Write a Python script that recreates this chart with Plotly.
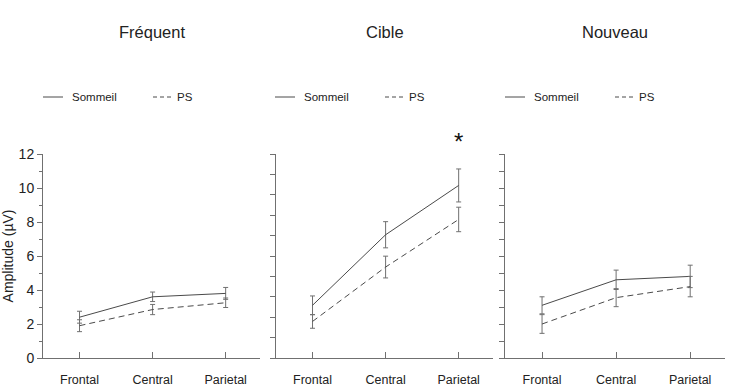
import plotly.graph_objects as go

categories = ["Frontal", "Central", "Parietal"]
panel_titles = ["Fréquent", "Cible", "Nouveau"]

frequent_sommeil = [2.4, 3.6, 3.8]
frequent_sommeil_err = [0.35, 0.28, 0.35]
frequent_ps = [1.9, 2.85, 3.25]
frequent_ps_err = [0.35, 0.3, 0.28]

cible_sommeil = [3.1, 7.25, 10.15]
cible_sommeil_err = [0.55, 0.77, 0.97]
cible_ps = [2.15, 5.35, 8.15]
cible_ps_err = [0.4, 0.64, 0.72]

nouveau_sommeil = [3.1, 4.6, 4.8]
nouveau_sommeil_err = [0.5, 0.57, 0.66]
nouveau_ps = [2.0, 3.55, 4.2]
nouveau_ps_err = [0.55, 0.53, 0.6]

y_ticks_labels = [0, 2, 4, 6, 8, 10, 12]

W, H = 732, 392
NARROW = "Liberation Sans Narrow, Arial Narrow, Liberation Sans, Arial"
LINE = "#4a4a4a"
AXC = "#707070"

panels = [
    (frequent_sommeil, frequent_sommeil_err, frequent_ps, frequent_ps_err),
    (cible_sommeil, cible_sommeil_err, cible_ps, cible_ps_err),
    (nouveau_sommeil, nouveau_sommeil_err, nouveau_ps, nouveau_ps_err),
]
x_px = [(43, 260), (276, 493), (505, 725)]
y_dom = [(H - 358) / H, (H - 154) / H]

fig = go.Figure()
for i, (s, se, p, pe) in enumerate(panels):
    xa = "x" if i == 0 else f"x{i+1}"
    ya = "y" if i == 0 else f"y{i+1}"
    fig.add_trace(go.Scatter(
        x=categories, y=s, xaxis=xa, yaxis=ya, mode="lines",
        line=dict(color=LINE, width=1),
        error_y=dict(type="data", array=se, color=AXC, thickness=1, width=2.5),
        showlegend=False, cliponaxis=False))
    fig.add_trace(go.Scatter(
        x=categories, y=p, xaxis=xa, yaxis=ya, mode="lines",
        line=dict(color=LINE, width=1, dash="6px,4px"),
        error_y=dict(type="data", array=pe, color=AXC, thickness=1, width=2.5),
        showlegend=False, cliponaxis=False))

layout = dict(
    template="none",
    width=W, height=H, margin=dict(l=0, r=0, t=0, b=0, autoexpand=False),
    paper_bgcolor="white", plot_bgcolor="white",
)
for i in range(3):
    xk = "xaxis" if i == 0 else f"xaxis{i+1}"
    yk = "yaxis" if i == 0 else f"yaxis{i+1}"
    xr = "y" if i == 0 else f"y{i+1}"
    yr = "x" if i == 0 else f"x{i+1}"
    layout[xk] = dict(
        domain=[x_px[i][0] / W, x_px[i][1] / W], anchor=xr, automargin=False,
        type="category", categoryorder="array", categoryarray=categories,
        range=[-0.5, 2.47], showline=True, linecolor=AXC, linewidth=1,
        showgrid=False, zeroline=False, ticks="inside", ticklen=6,
        tickcolor=AXC, ticklabelstandoff=10,
        tickfont=dict(family=NARROW, size=12.5, color="#222"),
        fixedrange=True,
    )
    ydict = dict(
        domain=y_dom, anchor=yr, range=[0, 12], showline=True, automargin=False,
        linecolor=AXC, linewidth=1, showgrid=False, zeroline=False,
        ticks="outside", ticklen=5, tickcolor=AXC,
        tickfont=dict(family=NARROW, size=14, color="#222"),
    )
    if i == 0:
        ydict.update(tickvals=y_ticks_labels, showticklabels=True,
                     minor=dict(dtick=1, ticks="outside", ticklen=3, tickcolor=AXC),
                     title=dict(text="Amplitude (µV)", standoff=16,
                                font=dict(family="Liberation Sans, Arial", size=14, color="#222")))
    elif i == 1:
        ydict.update(tick0=0, dtick=1.2, showticklabels=False)
    else:
        ydict.update(tick0=0, dtick=1, showticklabels=False)
    layout[yk] = ydict
fig.update_layout(**layout)

# titles
title_x = [152, 385, 615]
for t, tx in zip(panel_titles, title_x):
    fig.add_annotation(text=t, x=tx / W, y=(H - 32) / H, xref="paper", yref="paper",
                       showarrow=False, font=dict(family=NARROW, size=16.5, color="#222"),
                       xanchor="center", yanchor="middle")

# legends
leg_x = [43, 275, 505]
ly = (H - 97) / H
for lx in leg_x:
    fig.add_shape(type="line", xref="paper", yref="paper",
                  x0=lx / W, x1=(lx + 20) / W, y0=ly, y1=ly,
                  line=dict(color=LINE, width=1))
    fig.add_annotation(text="Sommeil", x=(lx + 27) / W, y=ly, xref="paper", yref="paper",
                       showarrow=False, xanchor="left", yanchor="middle",
                       font=dict(family=NARROW, size=11.5, color="#222"))
    fig.add_shape(type="line", xref="paper", yref="paper",
                  x0=(lx + 110) / W, x1=(lx + 130) / W, y0=ly, y1=ly,
                  line=dict(color=LINE, width=1, dash="4px,3px"))
    fig.add_annotation(text="PS", x=(lx + 132) / W, y=ly, xref="paper", yref="paper",
                       showarrow=False, xanchor="left", yanchor="middle",
                       font=dict(family=NARROW, size=11.5, color="#222"))

# significance asterisk
fig.add_annotation(text="*", x="Parietal", xref="x2", y=(H - 141) / H, yref="paper",
                   showarrow=False, xanchor="center", yanchor="middle",
                   font=dict(family="Liberation Sans, Arial", size=24, color="#111"))

fig.write_html("out.html")
